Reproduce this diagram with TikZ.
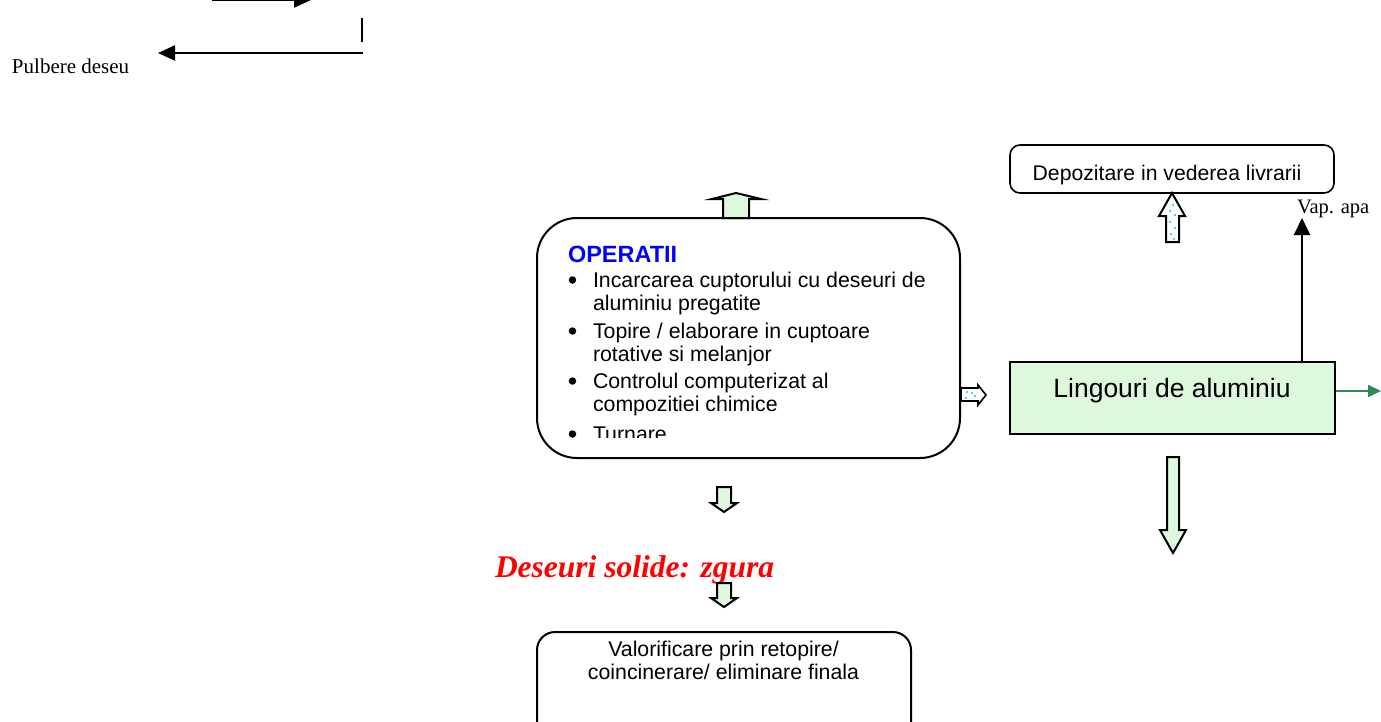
\documentclass[tikz,border=0pt]{standalone}
\usepackage{fontspec}
\setmainfont{Liberation Serif}
\newfontfamily\arialf{Liberation Sans}
\usetikzlibrary{arrows.meta}
\definecolor{lgreen}{RGB}{222,248,222}
\definecolor{dotcyan}{RGB}{70,210,220}
\definecolor{sgreen}{RGB}{46,139,87}
\definecolor{opblue}{RGB}{0,0,255}
\tikzset{
  txt/.style={inner sep=0pt, outer sep=0pt, anchor=base west},
  txtc/.style={inner sep=0pt, outer sep=0pt, anchor=base},
  blk/.style={draw=black, line width=2pt, line join=miter},
  arr/.style={line width=2.3pt, -{Triangle[length=17pt,width=15pt]}},
  garr/.style={line width=2pt, draw=sgreen, -{Triangle[length=13pt,width=12pt]}},
  cdot/.style={fill=dotcyan, draw=none},
  bul/.style={circle, fill=black, inner sep=0pt, minimum size=7.5pt},
}
\begin{document}
\begin{tikzpicture}[x=1pt,y=-1pt]
\useasboundingbox (0,0) rectangle (1381,721);
\clip (0,0) rectangle (1381,721);
\fill[white] (0,0) rectangle (1381,721);

% top-left flow
\coordinate (ta) at (212,0);
\coordinate (tb) at (311,0);
\draw[arr] (ta) -- (tb);
\coordinate (va) at (362,18);
\coordinate (vb) at (362,42);
\draw[line width=2.3pt] (va) -- (vb);
\coordinate (la) at (363,53);
\node[txt, font=\fontsize{21}{23}\selectfont] (pulb) at (12,73) {Pulbere deseu};
\coordinate (lb) at (158,53);
\draw[arr] (la) -- (lb);

% OPERATII box
\node[draw, line width=2pt, rounded corners=40pt, minimum width=423pt, minimum height=240pt, inner sep=0pt] (ops) at (748.5,338) {};
\begin{scope}
\clip (540,220) rectangle (958,437);
\node[txt, font=\arialf\bfseries\fontsize{23.5}{26}\selectfont, text=opblue] (optitle) at (568,262) {OPERATII};
\begin{scope}[every node/.append style={font=\arialf\fontsize{21.3}{23.5}\selectfont}]
\node[bul] (b1) at (572.5,280) {};
\node[txt] (l1a) at (593,287) {Incarcarea cuptorului cu deseuri de};
\node[txt] (l1b) at (593,310.5) {aluminiu pregatite};
\node[bul] (b2) at (572.5,331) {};
\node[txt] (l2a) at (593,338) {Topire / elaborare in cuptoare};
\node[txt] (l2b) at (593,361.5) {rotative si melanjor};
\node[bul] (b3) at (572.5,381) {};
\node[txt] (l3a) at (593,388) {Controlul computerizat al};
\node[txt] (l3b) at (593,411.5) {compozitiei chimice};
\node[bul] (b4) at (572.5,434) {};
\node[txt] (l4a) at (593,441) {Turnare};
\end{scope}
\end{scope}

% block arrow up above OPERATII
\filldraw[blk, fill=lgreen] (723,218) -- (723,199) -- (712,199) -- (736,193) -- (761,199) -- (749,199) -- (749,218) -- cycle;

% small right arrow from OPERATII
\filldraw[blk, fill=white, line width=1.6pt] (961,388) -- (978,388) -- (978,385) -- (986,395) -- (978,405) -- (978,401) -- (961,401) -- cycle;
\fill[cdot] (967,392) circle (1.3pt);
\fill[cdot] (972,393) circle (1.3pt);
\fill[cdot] (966,398) circle (1.3pt);
\fill[cdot] (975,396) circle (1.3pt);

% Depozitare box
\node[draw, line width=1.6pt, rounded corners=10pt, minimum width=324pt, minimum height=48pt, inner sep=0pt] (depo) at (1172,169) {};
\node[txtc, font=\arialf\fontsize{21.2}{24}\selectfont] (depot) at (1167,180) {Depozitare in vederea livrarii};

% block arrow up to Depozitare
\filldraw[blk, fill=white] (1166,242) -- (1166,216) -- (1159,216) -- (1172,193) -- (1185,216) -- (1179,216) -- (1179,242) -- cycle;
\fill[cdot] (1173,205) circle (1.3pt);
\fill[cdot] (1170,211) circle (1.3pt);
\fill[cdot] (1175,215) circle (1.3pt);
\fill[cdot] (1170,222) circle (1.3pt);
\fill[cdot] (1175,228) circle (1.3pt);
\fill[cdot] (1171,234) circle (1.3pt);
\fill[cdot] (1174,239) circle (1.3pt);

% Lingouri box
\node[draw, line width=1.6pt, fill=lgreen, minimum width=325pt, minimum height=72pt, inner sep=0pt] (ling) at (1172.5,398) {};
\node[txtc, font=\arialf\fontsize{26.5}{30}\selectfont] (lingt) at (1172,397) {Lingouri de aluminiu};

% Vap. apa
\coordinate (vaptip) at (1302,218);
\draw[line width=2.3pt, -{Triangle[length=17pt,width=16pt]}] (ling.north -| vaptip) -- (vaptip);
\node[txt, font=\fontsize{20.5}{22}\selectfont] (vap) at (1297,213) {Vap. apa};

% green arrow
\coordinate (gend) at (1381,391);
\draw[garr] (ling.east |- gend) -- (gend);

% block arrow down from Lingouri
\filldraw[blk, fill=lgreen] (1167,457) -- (1179,457) -- (1179,530) -- (1186,530) -- (1173,553) -- (1160,530) -- (1167,530) -- cycle;

% small down arrows
\filldraw[blk, fill=lgreen] (717,487) -- (731,487) -- (731,503) -- (737,503) -- (724,512) -- (711,503) -- (717,503) -- cycle;
\node[txt, font=\bfseries\itshape\fontsize{31.5}{34}\selectfont, text=red] (zgura) at (495,577) {Deseuri solide: zgura};
\filldraw[blk, fill=lgreen] (717,583) -- (731,583) -- (731,598) -- (737,598) -- (724,607) -- (711,598) -- (717,598) -- cycle;

% Valorificare box
\node[draw, line width=2pt, rounded corners=18pt, minimum width=374pt, minimum height=110pt, inner sep=0pt] (valo) at (724,687) {};
\node[txtc, font=\arialf\fontsize{21.3}{23.5}\selectfont] (valo1) at (723.5,656) {Valorificare prin retopire/};
\node[txtc, font=\arialf\fontsize{21.3}{23.5}\selectfont] (valo2) at (723.5,679.5) {coincinerare/ eliminare finala};
\end{tikzpicture}
\end{document}
